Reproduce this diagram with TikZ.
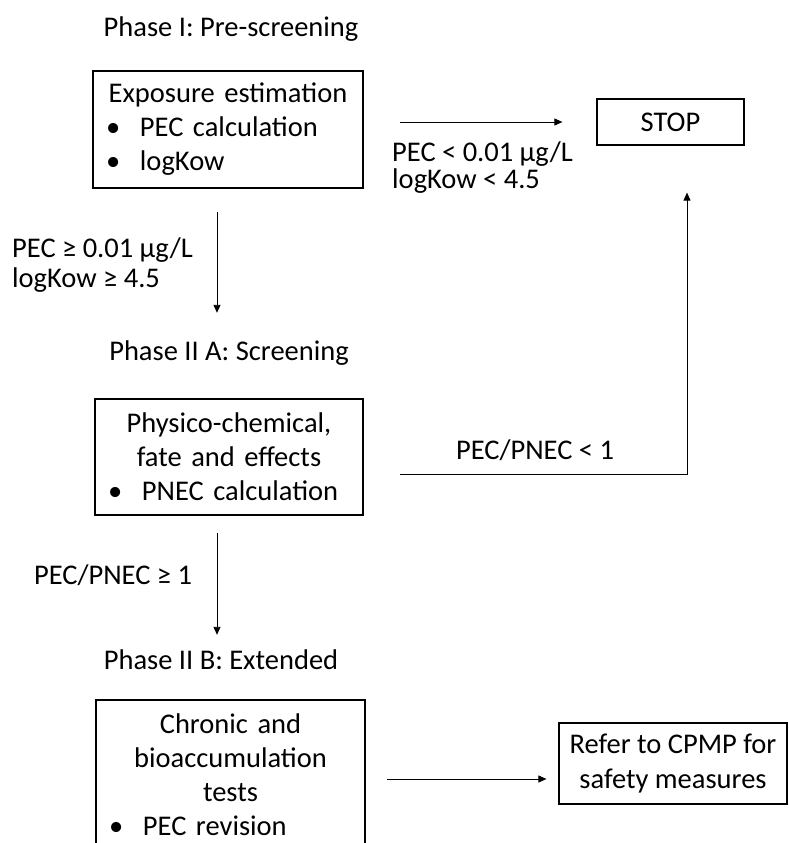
\documentclass[tikz,border=0pt]{standalone}
\usepackage{fontspec}
\setmainfont{Carlito}
\usepackage{tikz}
\usetikzlibrary{positioning, arrows.meta}

\newcommand{\bitem}[1]{\makebox[\hsize][l]{\hspace*{13pt}\makebox[34pt][l]{\textbullet}#1}}

\begin{document}
\begin{tikzpicture}[x=1pt, y=-1pt,
    box/.style={draw, line width=1.2pt, inner sep=0pt, align=center, font=\fontsize{28.5}{34}\selectfont},
    lbl/.style={inner sep=0pt, text height=21pt, text depth=7pt, font=\fontsize{28.5}{30}\selectfont},
    arr/.style={-{Triangle[length=8pt, width=7pt]}, line width=0.9pt}]
                    \useasboundingbox (0,0) rectangle (788,843);
                    \clip (0,0) rectangle (788,843);

                    \node[lbl] (ph1) at (231, 30) {Phase I: Pre-screening};
                    \node[lbl] (ph2a) at (229, 353) {Phase II A: Screening};
                    \node[lbl] (ph2b) at (221, 662) {Phase II B: Extended};

                    \node[box, minimum width=270pt, minimum height=117pt, text width=270pt] (expo) at (228, 129.5) {Exposure estimation\\ \bitem{PEC calculation}\\ \bitem{logKow}};
                    \node[box, minimum width=268pt, minimum height=116pt, text width=268pt] (scrn) at (229, 457) {Physico-chemical,\\ fate and effects\\ \bitem{PNEC calculation}};
                    \node[box, minimum width=269pt, minimum height=150pt, text width=269pt] (chron) at (230.5, 775) {Chronic and\\ bioaccumulation\\ tests\\ \bitem{PEC revision}};
                    \node[box, minimum width=147pt, minimum height=46pt] (stop) at (670.5, 122) {STOP};
                    \node[box, minimum width=228pt, minimum height=81pt, font=\fontsize{28.5}{35}\selectfont] (cpmp) at (673, 763.5) {Refer to CPMP for\\ safety measures};

                    \node[inner sep=0pt, align=left, anchor=west, font=\fontsize{28.5}{30}\selectfont] (geq) at (12, 265) {PEC ≥ 0.01 µg/L\\ logKow ≥ 4.5};
                    \node[inner sep=0pt, align=left, anchor=west, font=\fontsize{28.5}{27}\selectfont] (lt) at (392, 168) {PEC < 0.01 µg/L\\ logKow < 4.5};
                    \node[lbl] (rlt) at (535, 452) {PEC/PNEC < 1};
                    \node[lbl] (rgeq) at (113, 577) {PEC/PNEC ≥ 1};

                    \draw[arr, shorten <=36pt, shorten >=34pt] (expo.east |- stop.west) -- (stop.west);
                    \draw[arr, shorten <=23pt, shorten >=26pt] ([xshift=-11pt]expo.south) -- ([xshift=-11pt]expo.south |- ph2a.north);
                    \draw[arr, shorten <=36pt, shorten >=47pt] ([yshift=-17pt]scrn.east) -| ([xshift=16.5pt]stop.south);
                    \draw[arr, shorten <=17pt, shorten >=13pt] ([xshift=-12pt]scrn.south) -- ([xshift=-12pt]scrn.south |- ph2b.north);
                    \draw[arr, shorten <=21pt, shorten >=12pt] ([yshift=-4pt]chron.east) -- ([yshift=-4pt]chron.east -| cpmp.west);
                \end{tikzpicture}
\end{document}
